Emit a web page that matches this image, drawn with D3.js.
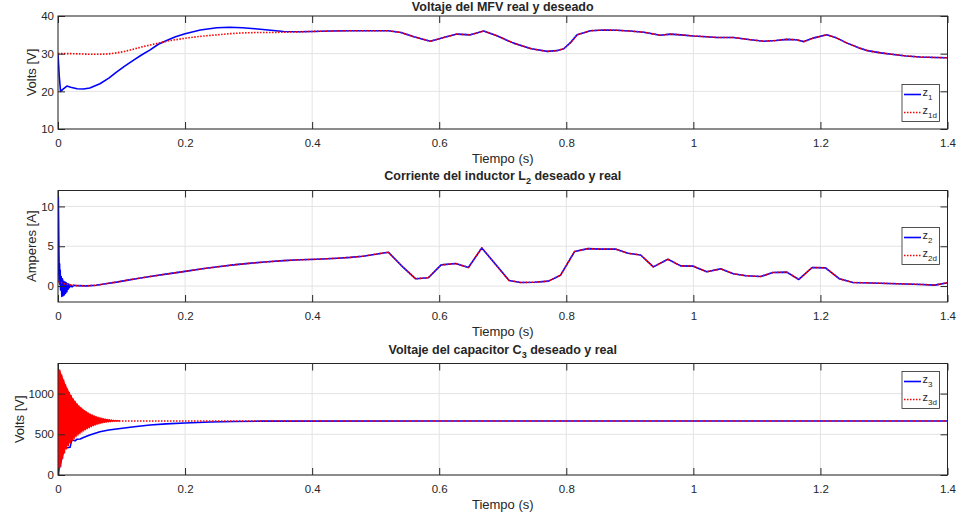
<!DOCTYPE html>
<html>
<head>
<meta charset="utf-8">
<script src="https://cdn.jsdelivr.net/npm/d3@7"></script>
<style>
  body { margin: 0; background: #fff; }
  text { font-family: "Liberation Sans", Arial, Helvetica, sans-serif; fill: #262626; }
  .domain { display: none; }
  .tick line { stroke: #262626; }
</style>
</head>
<body>
<div class="container"></div>
<script>
// ---- panel 1: voltaje del MFV ----
let t1 = [0, 0.002, 0.004, 0.008, 0.014, 0.02, 0.03, 0.04, 0.05, 0.066, 0.08, 0.092, 0.105, 0.119, 0.132, 0.145, 0.158, 0.171, 0.185, 0.2,
    0.224, 0.25, 0.27, 0.29, 0.31, 0.335, 0.355, 0.38, 0.4, 0.43, 0.46, 0.49, 0.52, 0.54, 0.56, 0.586, 0.61, 0.628, 0.649, 0.67,
    0.69, 0.717, 0.745, 0.77, 0.785, 0.796, 0.807, 0.817, 0.838, 0.86, 0.88, 0.9, 0.922, 0.948, 0.964, 0.98, 1.0, 1.02, 1.037, 1.063,
    1.09, 1.111, 1.13, 1.147, 1.162, 1.174, 1.19, 1.21, 1.225, 1.242, 1.26, 1.274, 1.295, 1.315, 1.335, 1.357, 1.38, 1.4];
let z1 = [30, 24, 20, 20.6, 21.4, 21.1, 20.7, 20.6, 20.9, 22.0, 23.5, 25.1, 26.7, 28.3, 29.7, 31.0, 32.5, 33.5, 34.5, 35.3,
    36.3, 36.9, 37.0, 36.9, 36.6, 36.2, 35.9, 35.8, 35.9, 36.0, 36.1, 36.1, 36.1, 35.6, 34.5, 33.3, 34.4, 35.2, 35.0, 36.0,
    34.8, 32.8, 31.3, 30.6, 30.8, 31.3, 33.0, 35.0, 36.1, 36.3, 36.2, 36.0, 35.7, 34.9, 35.2, 35.0, 34.7, 34.5, 34.3, 34.3,
    33.7, 33.3, 33.5, 33.8, 33.7, 33.2, 34.2, 35.0, 34.2, 32.8, 31.6, 30.8, 30.2, 29.8, 29.4, 29.1, 29.0, 28.9];
let z1d = [30, 30, 30, 30, 30, 30, 29.95, 29.9, 29.85, 29.85, 29.95, 30.2, 30.6, 31.2, 31.8, 32.3, 32.8, 33.3, 33.7, 34.1,
    34.6, 35.0, 35.3, 35.5, 35.6, 35.6, 35.7, 35.8, 35.9, 36.0, 36.1, 36.1, 36.1, 35.6, 34.5, 33.3, 34.4, 35.2, 35.0, 36.0,
    34.8, 32.8, 31.3, 30.6, 30.8, 31.3, 33.0, 35.0, 36.1, 36.3, 36.2, 36.0, 35.7, 34.9, 35.2, 35.0, 34.7, 34.5, 34.3, 34.3,
    33.7, 33.3, 33.5, 33.8, 33.7, 33.2, 34.2, 35.0, 34.2, 32.8, 31.6, 30.8, 30.2, 29.8, 29.4, 29.1, 29.0, 28.9];

// ---- panel 2: corriente del inductor L2 ----
let t2start = [0, 0.0005, 0.001, 0.0015, 0.002, 0.0025, 0.003, 0.0035, 0.004, 0.005, 0.006, 0.007, 0.008, 0.009, 0.010,
    0.011, 0.012, 0.013, 0.014, 0.015, 0.016, 0.017, 0.018, 0.02, 0.022, 0.025];
let z2start = [0.5, 11.3, 8, 4, 1.5, 2.8, 0.2, 2.0, -0.5, 1.2, -1.3, 0.9, -1.2, 0.6, -1.1, 0.5, -0.9, 0.4, -0.7, 0.3,
    -0.4, 0.25, -0.2, 0.15, -0.1, 0.1];
let t2dstart = [0, 0.005, 0.01, 0.02, 0.025];
let z2dstart = [0.55, 0.45, 0.3, 0.15, 0.1];
let t2 = [0.03, 0.045, 0.06, 0.075, 0.092, 0.11, 0.125, 0.145, 0.17, 0.2, 0.23, 0.255, 0.276, 0.3, 0.33, 0.355, 0.381, 0.407,
    0.44, 0.46, 0.48, 0.5, 0.52, 0.543, 0.563, 0.583, 0.603, 0.626, 0.646, 0.667, 0.71, 0.728, 0.75, 0.772, 0.791, 0.813,
    0.834, 0.854, 0.877, 0.897, 0.917, 0.937, 0.96, 0.98, 1.0, 1.021, 1.043, 1.063, 1.083, 1.106, 1.125, 1.147, 1.166,
    1.187, 1.208, 1.23, 1.251, 1.307, 1.36, 1.38, 1.4];
let z2 = [0.05, 0.02, 0.1, 0.3, 0.5, 0.75, 0.95, 1.2, 1.5, 1.85, 2.2, 2.45, 2.66, 2.85, 3.05, 3.2, 3.3, 3.37,
    3.5, 3.6, 3.75, 4.0, 4.25, 2.37, 0.91, 1.05, 2.66, 2.83, 2.33, 4.79, 0.7, 0.45, 0.48, 0.62, 1.37, 4.33,
    4.7, 4.64, 4.66, 4.12, 3.9, 2.41, 3.37, 2.54, 2.5, 1.79, 2.16, 1.54, 1.29, 1.2, 1.7, 1.75, 0.83,
    2.33, 2.29, 0.91, 0.45, 0.33, 0.2, 0.12, 0.41];

// ---- panel 3: voltaje del capacitor C3 ----
let t3osc = [0, 0.003, 0.006, 0.009, 0.012, 0.015, 0.018, 0.021, 0.024, 0.027, 0.030, 0.033, 0.036, 0.039, 0.042, 0.045,
    0.048, 0.051, 0.054, 0.057, 0.060, 0.063, 0.066, 0.069, 0.072, 0.075, 0.078, 0.081, 0.084, 0.087, 0.090, 0.093, 0.096];
let z3dHi = [1310, 1290, 1230, 1170, 1110, 1060, 1015, 975, 935, 905, 875, 850, 830, 810, 792, 776, 761, 749, 738, 728,
    719, 711, 704, 698, 692, 688, 684, 680, 677, 674, 672, 670, 668];
let z3dLo = [0, 100, 200, 270, 320, 360, 390, 420, 445, 470, 490, 508, 525, 540, 555, 568, 580, 592, 602, 612,
    620, 628, 635, 640, 645, 649, 652, 655, 657, 659, 660, 661, 662];
let t3d = [0.096, 0.4, 0.8, 1.2, 1.4];
let z3d = [663, 663, 663, 663, 663];
let t3 = [0, 0.003, 0.006, 0.009, 0.011, 0.015, 0.019, 0.0215, 0.025, 0.027, 0.03, 0.035, 0.04, 0.05, 0.066, 0.08, 0.092,
    0.12, 0.145, 0.17, 0.2, 0.24, 0.276, 0.32, 0.6, 1.0, 1.4];
let z3 = [20, 110, 205, 300, 340, 335, 340, 430, 425, 420, 440, 442, 460, 491, 532, 552, 565,
    592, 614, 628, 639, 651, 658, 662, 663, 663, 663];

let xTicks = [0, 0.2, 0.4, 0.6, 0.8, 1, 1.2, 1.4];

let svg = d3.select(".container").append("svg")
    .attr("width", 958)
    .attr("height", 519);

let xLeft = 58, xRight = 947.5;
let blue = "#0000ff", red = "#ff0000";

let xScale = d3.scaleLinear().domain([0, 1.4]).range([xLeft, xRight]);

let panels = [
    {top: 16, bottom: 129, domain: [10, 40], ticks: [10, 20, 30, 40], ylabel: "Volts [V]", ylx: 36,
        title: ["Voltaje del MFV real y deseado"], titleY: 11, leg: ["1", "1d"], legTop: 84.5},
    {top: 190.5, bottom: 302, domain: [-2, 12], ticks: [0, 5, 10], ylabel: "Amperes [A]", ylx: 36,
        title: ["Corriente del inductor L", "2", " deseado y real"], titleY: 180, leg: ["2", "2d"], legTop: 227.5},
    {top: 363.5, bottom: 475, domain: [0, 1370], ticks: [0, 500, 1000], ylabel: "Volts [V]", ylx: 23.5,
        title: ["Voltaje del capacitor C", "3", " deseado y real"], titleY: 354, leg: ["3", "3d"], legTop: 371.5}
];

let defs = svg.append("defs");

panels.forEach(function (p, i) {
    p.y = d3.scaleLinear().domain(p.domain).range([p.bottom, p.top]);
    let g = svg.append("g").attr("class", "panel" + i);
    p.g = g;

    defs.append("clipPath").attr("id", "clip" + i)
        .append("rect")
        .attr("x", xLeft).attr("y", p.top)
        .attr("width", xRight - xLeft).attr("height", p.bottom - p.top);

    // grid
    g.selectAll(".gx").data(xTicks).enter().append("line")
        .attr("x1", d => xScale(d)).attr("x2", d => xScale(d))
        .attr("y1", p.top).attr("y2", p.bottom)
        .attr("stroke", "#e3e3e3").attr("stroke-width", 1);
    g.selectAll(".gy").data(p.ticks).enter().append("line")
        .attr("x1", xLeft).attr("x2", xRight)
        .attr("y1", d => p.y(d)).attr("y2", d => p.y(d))
        .attr("stroke", "#e3e3e3").attr("stroke-width", 1);
});

function line(p) {
    return d3.line().x(d => xScale(d[0])).y(d => p.y(d[1]));
}

function pairs(ts, vs) {
    return ts.map((t, i) => [t, vs[i]]);
}

function drawSeries(i, data, color, dotted, width) {
    let p = panels[i];
    let path = p.g.append("path")
        .attr("clip-path", "url(#clip" + i + ")")
        .attr("d", line(p)(data))
        .attr("fill", "none")
        .attr("stroke", color)
        .attr("stroke-width", width || 1.6)
        .attr("stroke-linejoin", "round");
    if (dotted) path.attr("stroke-dasharray", "1.5,1.5");
    return path;
}

// panel 1
drawSeries(0, pairs(t1, z1), blue, false);
drawSeries(0, pairs(t1, z1d), red, true);

// panel 2
drawSeries(1, pairs(t2start, z2start).concat(pairs(t2, z2)), blue, false, 1.6);
drawSeries(1, pairs(t2dstart, z2dstart).concat(pairs(t2, z2)), red, true);

// panel 3
let osc = [];
t3osc.forEach(function (t, k) {
    osc.push([t, z3dHi[k]]);
    osc.push([t + 0.0015, z3dLo[k]]);
});
drawSeries(2, pairs(t3, z3), blue, false);
// dense oscillation of z3d: filled between its envelopes, then the zigzag on top
panels[2].g.append("path")
    .attr("clip-path", "url(#clip2)")
    .attr("d", d3.area()
        .x(d => xScale(d[0]))
        .y0(d => panels[2].y(d[2]))
        .y1(d => panels[2].y(d[1]))(t3osc.map((t, k) => [t, z3dHi[k], z3dLo[k]])))
    .attr("fill", red);
drawSeries(2, osc, red, false, 1.2);
drawSeries(2, pairs(t3d, z3d), red, true);

panels.forEach(function (p, i) {
    let g = p.g;
    // box
    g.append("rect")
        .attr("x", xLeft).attr("y", p.top)
        .attr("width", xRight - xLeft).attr("height", p.bottom - p.top)
        .attr("fill", "none").attr("stroke", "#262626").attr("stroke-width", 1);

    g.append("g")
        .attr("transform", "translate(0," + p.bottom + ")")
        .call(d3.axisBottom(xScale).tickValues(xTicks).tickFormat(d3.format("~g"))
            .tickSizeInner(-7).tickSizeOuter(0).tickPadding(10))
        .selectAll("text").attr("font-size", 11.5);
    g.append("g")
        .attr("transform", "translate(0," + p.top + ")")
        .call(d3.axisTop(xScale).tickValues(xTicks).tickFormat("").tickSizeInner(-7).tickSizeOuter(0));
    g.append("g")
        .attr("transform", "translate(" + xLeft + ",0)")
        .call(d3.axisLeft(p.y).tickValues(p.ticks).tickFormat(d3.format("d"))
            .tickSizeInner(-7).tickSizeOuter(0).tickPadding(4))
        .selectAll("text").attr("font-size", 11.5);
    g.append("g")
        .attr("transform", "translate(" + xRight + ",0)")
        .call(d3.axisRight(p.y).tickValues(p.ticks).tickFormat("").tickSizeInner(-7).tickSizeOuter(0));
    g.selectAll(".tick text").attr("fill", "#262626").attr("font-family", null);

    // x label
    g.append("text")
        .attr("x", (xLeft + xRight) / 2).attr("y", p.bottom + 33.5)
        .attr("text-anchor", "middle").attr("font-size", 13)
        .text("Tiempo (s)");

    // y label
    g.append("text")
        .attr("transform", "translate(" + p.ylx + "," + (p.top + p.bottom) / 2 + ") rotate(-90)")
        .attr("text-anchor", "middle").attr("font-size", 13)
        .text(p.ylabel);

    // title
    let title = g.append("text")
        .attr("x", (xLeft + xRight) / 2).attr("y", p.titleY)
        .attr("text-anchor", "middle").attr("font-size", 12.5).attr("font-weight", "bold")
        .attr("fill", "#000");
    title.append("tspan").text(p.title[0]);
    if (p.title.length > 1) {
        title.append("tspan").attr("dy", 4).attr("font-size", 9).text(p.title[1]);
        title.append("tspan").attr("dy", -4).text(p.title[2]);
    }

    // legend
    let lx = 902, lw = 37.5, lh = 37;
    let leg = g.append("g").attr("transform", "translate(" + lx + "," + p.legTop + ")");
    leg.append("rect").attr("width", lw).attr("height", lh)
        .attr("fill", "#fff").attr("stroke", "#262626").attr("stroke-width", 0.8);
    [[blue, false, p.leg[0], 10], [red, true, p.leg[1], 28]].forEach(function (e) {
        let ln = leg.append("line")
            .attr("x1", 2).attr("x2", 19)
            .attr("y1", e[3]).attr("y2", e[3])
            .attr("stroke", e[0]).attr("stroke-width", 1.6);
        if (e[1]) ln.attr("stroke-dasharray", "1.5,1.5");
        let tx = leg.append("text").attr("x", 20.5).attr("y", e[3] + 1.5).attr("font-size", 11);
        tx.append("tspan").text("z");
        tx.append("tspan").attr("dy", 4).attr("font-size", 8).text(e[2]);
    });
});
</script>
</body>
</html>
